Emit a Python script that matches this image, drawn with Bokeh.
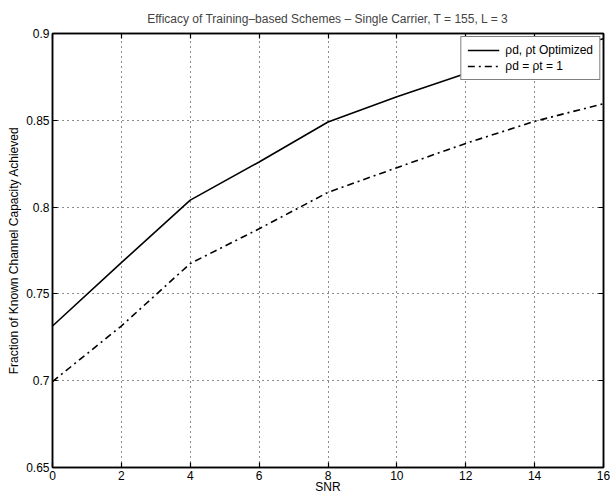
from bokeh.plotting import figure
from bokeh.models import (Range1d, FixedTicker, LinearAxis, Legend, LegendItem,
                          CustomLabelingPolicy)
from bokeh.embed import file_html
from bokeh.resources import INLINE

# ---- data ----
snr = [0, 2, 4, 6, 8, 10, 12, 14, 16]
optimized = [0.7315, 0.768, 0.804, 0.826, 0.849, 0.8635, 0.877, 0.888, 0.897]
equal_power = [0.6995, 0.7315, 0.7675, 0.7875, 0.8085, 0.8227, 0.8367, 0.8494, 0.8596]

x_ticks = [0, 2, 4, 6, 8, 10, 12, 14, 16]
y_ticks = [0.65, 0.7, 0.75, 0.8, 0.85, 0.9]
y_tick_labels = ["0.65", "0.7", "0.75", "0.8", "0.85", "0.9"]

title_text = "Efficacy of Training\u2013based Schemes \u2013 Single Carrier, T = 155, L = 3"
x_label = "SNR"
y_label = "Fraction of Known Channel Capacity Achieved"
legend_labels = ["\u03c1d, \u03c1t Optimized", "\u03c1d = \u03c1t = 1"]

FONT = "Liberation Sans"

p = figure(width=610, height=496, output_backend="svg", toolbar_location=None,
           x_range=Range1d(0, 16), y_range=Range1d(0.65, 0.9),
           min_border_left=52, min_border_right=7, min_border_top=33, min_border_bottom=28,
           background_fill_color="white", border_fill_color="white")

p.title.text = title_text
p.title.align = "center"
p.title.text_font = FONT
p.title.text_font_size = "12px"
p.title.text_font_style = "normal"
p.title.standoff = 7

p.outline_line_color = "black"
p.outline_line_width = 1.5

for ax in p.xaxis:
    ax.ticker = FixedTicker(ticks=x_ticks)
for ax in p.yaxis:
    ax.ticker = FixedTicker(ticks=y_ticks)
    ax.major_label_overrides = {t: l for t, l in zip(y_ticks, y_tick_labels)}

for ax in list(p.xaxis) + list(p.yaxis):
    ax.major_tick_in = 5
    ax.major_tick_out = 0
    ax.minor_tick_in = 0
    ax.minor_tick_out = 0
    ax.major_tick_line_color = "black"
    ax.major_tick_line_width = 1.2
    ax.axis_line_color = "black"
    ax.axis_line_width = 1.5
    ax.major_label_text_font = FONT
    ax.major_label_text_font_size = "12px"
    ax.major_label_text_color = "black"
    ax.axis_label_text_font = FONT
    ax.axis_label_text_font_size = "12px"
    ax.axis_label_text_font_style = "normal"
    ax.axis_label_text_color = "black"

p.xaxis.axis_label = x_label
p.xaxis.major_label_standoff = 3
p.xaxis.axis_label_standoff = -3
p.yaxis.axis_label = y_label
p.yaxis.major_label_standoff = 3
p.yaxis.axis_label_standoff = 2

# box ticks on top and right (MATLAB style), without labels
hide_labels = CustomLabelingPolicy(code="""
if (typeof indices.clear === 'function') {
    indices.clear()
} else {
    for (const i of [...indices]) indices.unset(i)
}
return indices
""")

def box_axis(ticks):
    return LinearAxis(ticker=FixedTicker(ticks=ticks), major_label_policy=hide_labels,
                      major_label_text_font_size="1px", major_label_standoff=0,
                      major_tick_in=5, major_tick_out=0, minor_tick_in=0, minor_tick_out=0,
                      axis_line_color="black", axis_line_width=1.5,
                      major_tick_line_color="black", major_tick_line_width=1.2)

p.add_layout(box_axis(x_ticks), "above")
p.add_layout(box_axis(y_ticks), "right")

p.grid.grid_line_color = "black"
p.grid.grid_line_dash = "1 4"
p.grid.grid_line_width = 1
p.grid.grid_line_alpha = 0.9
p.xgrid.ticker = FixedTicker(ticks=x_ticks)
p.ygrid.ticker = FixedTicker(ticks=y_ticks)

r1 = p.line(snr, optimized, line_color="black", line_width=1.6)
r2 = p.line(snr, equal_power, line_color="black", line_width=1.6, line_dash="7 4 2 4")

legend = Legend(items=[LegendItem(label=legend_labels[0], renderers=[r1]),
                       LegendItem(label=legend_labels[1], renderers=[r2])],
                location="top_right", margin=3, padding=6, spacing=2,
                glyph_width=32, glyph_height=14, label_standoff=6,
                label_text_font=FONT, label_text_font_size="12px", label_text_color="black",
                border_line_color="black", border_line_width=1.3,
                background_fill_color="white", background_fill_alpha=1.0)
p.add_layout(legend)

open("out.html", "w").write(file_html(p, INLINE))
